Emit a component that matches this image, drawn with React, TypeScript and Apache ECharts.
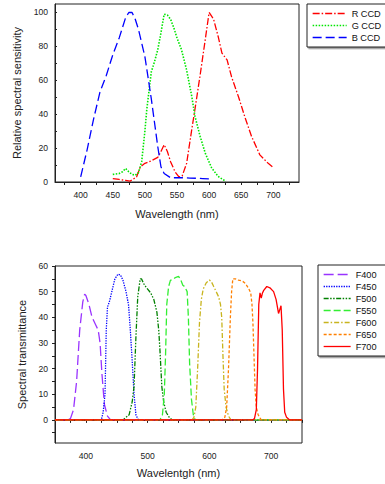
import React, { useEffect, useRef } from "react";
import * as echarts from "echarts";

// ---- Top chart: relative spectral sensitivity of the CCD channels ----
const rWl = [450, 460, 470, 477, 487, 493, 500, 510, 520, 525, 530, 535, 540, 547, 553, 558, 565, 573, 578, 586, 594, 600, 607, 614, 620, 628, 635, 646, 656, 666, 679, 692, 700];
const rVal = [2, 1.5, 1, 0.5, 3, 9, 11, 12.5, 14.5, 18, 22, 18, 12, 6, 3, 3.5, 11, 31, 43, 63, 84, 100, 96, 86, 76, 72, 62, 50, 38, 27, 16, 11, 8.6];

const gWl = [450, 460, 465, 470, 475, 480, 485, 490, 495, 500, 503, 510, 515, 520, 525, 530, 535, 540, 545, 550, 557, 565, 573, 578, 586, 594, 604, 614, 626];
const gVal = [4.5, 5, 6, 8, 6, 4.5, 4, 5.5, 12, 30, 43, 65, 71, 78, 88, 99, 98.5, 96, 91, 85, 78, 66, 50.5, 38.7, 27, 17, 8.3, 3.3, 0.4];

const bWl = [400, 410, 420, 430, 440, 450, 460, 470, 475, 480, 485, 490, 500, 510, 520, 525, 530, 540, 550, 560, 570, 580, 590, 600];
const bVal = [3, 19, 37, 53, 63, 75, 85, 97, 100, 100, 96, 90, 74, 49, 21, 9, 5, 2.5, 2.5, 2.5, 2.3, 2.2, 2, 1.8];

const topXTicks = [375, 400, 425, 450, 475, 500, 525, 550, 575, 600, 625, 650, 675, 700, 725];
const topXLabels = [400, 450, 500, 550, 600, 650, 700];
const topYTicks = [0, 10, 20, 30, 40, 50, 60, 70, 80, 90, 100];
const topYLabels = [0, 20, 40, 60, 80, 100];

// ---- Bottom chart: spectral transmittance of the filters ----
const f400Wl = [350, 370, 375, 380, 385, 390, 395, 398, 400, 405, 410, 415, 420, 423, 426, 430, 435, 440, 750];
const f400Val = [0, 0, 0.5, 4, 15, 35, 46, 49, 48.5, 45, 40, 37.5, 35, 30, 18, 6, 1.5, 0, 0];

const f450Wl = [350, 425, 428, 431, 433, 435, 438, 442, 447, 452, 456, 460, 465, 469, 472, 475, 478, 481, 485, 750];
const f450Val = [0, 0, 3, 10, 35, 44, 46, 50, 55, 56.8, 56.5, 54.5, 50, 45, 35, 23, 10, 2, 0, 0];

const f500Wl = [350, 460, 470, 475, 478, 481, 484, 488, 490, 495, 500, 505, 510, 515, 518, 520, 523, 526, 530, 535, 540, 750];
const f500Val = [0, 0, 2, 7, 13, 32, 48, 55, 55, 52.5, 51, 49.5, 47, 42, 35, 27, 13, 7, 3, 1, 0, 0];

const f550Wl = [350, 520, 524, 527, 529, 531, 534, 537, 540, 545, 550, 553, 557, 560, 564, 566, 568, 571, 574, 577, 750];
const f550Val = [0, 0, 2, 10, 25, 45, 52, 54.5, 54.5, 55.5, 56, 55, 52.5, 52, 50, 40, 22, 8, 2, 0, 0];

const f600Wl = [350, 572, 575, 578, 581, 584, 587, 590, 595, 600, 603, 607, 610, 615, 618, 620, 622, 624, 627, 631, 635, 750];
const f600Val = [0, 0, 1, 5, 20, 38, 47, 51, 53.5, 54.5, 54, 52, 50.5, 48, 45, 40, 25, 12, 5, 1.5, 0, 0];

const f650Wl = [350, 620, 625, 628, 631, 634, 636, 638, 642, 647, 653, 658, 663, 667, 669, 670.5, 672, 674, 676, 679, 684, 750];
const f650Val = [0, 0, 1, 5, 20, 40, 50, 55, 55, 54.5, 54.2, 53.3, 51.5, 49.5, 45, 38, 27, 12, 5, 2, 0, 0];

const f700Wl = [350, 670, 673, 676, 678, 680, 682, 684, 686, 688, 693, 698, 704, 708, 712, 714, 716, 718, 720, 722, 725, 730, 750];
const f700Val = [0, 0, 0.5, 4, 20, 45, 49.5, 47.5, 49.5, 50.5, 52, 51.5, 50, 47, 41.5, 43, 44.5, 35, 12, 3, 1, 0, 0];

const botXTicks = [350, 375, 400, 425, 450, 475, 500, 525, 550, 575, 600, 625, 650, 675, 700, 725, 750];
const botXLabels = [400, 500, 600, 700];
const botYTicks = [-5, 0, 5, 10, 15, 20, 25, 30, 35, 40, 45, 50, 55, 60];
const botYLabels = [0, 10, 20, 30, 40, 50, 60];

const FONT = "Liberation Sans, Arial, sans-serif";
const AXIS_COLOR = "#222";

function pairs(xs: number[], ys: number[]) {
  return xs.map((x, i) => [x, ys[i]]);
}

export default function App() {
  const ref = useRef<HTMLDivElement>(null);

  useEffect(() => {
    if (!ref.current) return;
    const chart = echarts.init(ref.current, undefined, { renderer: "svg" });

    const axisLineStyle = { lineStyle: { color: AXIS_COLOR, width: 1 } };
    const labelStyle = { fontFamily: FONT, fontSize: 8.6, color: "#222" };
    const nameStyle = { fontFamily: FONT, fontSize: 11, color: "#222" };

    const mkLine = (name: string, data: number[][], color: string, type: any, xi: number, width = 1.3) => ({
      type: "line",
      name,
      data,
      xAxisIndex: xi,
      yAxisIndex: xi,
      symbol: "none",
      showSymbol: false,
      smooth: false,
      lineStyle: { color, width, type },
      itemStyle: { color },
      z: 3,
    });

    const legendCommon = {
      orient: "vertical",
      backgroundColor: "#fff",
      borderColor: "#222",
      borderWidth: 1,
      shadowColor: "rgba(0,0,0,0.45)",
      shadowOffsetX: 1.5,
      shadowOffsetY: 1.5,
      shadowBlur: 0,
      itemHeight: 9,
      itemGap: 3,
      selectedMode: false,
      itemStyle: { opacity: 0, borderWidth: 0 },
      lineStyle: { width: 1.3 },
      textStyle: { fontFamily: FONT, fontSize: 9.2, color: "#111", padding: [0, 0, 0, 0] },
    };

    chart.setOption({
      animation: false,
      backgroundColor: "#fff",
      grid: [
        { left: 55, top: 4, width: 244, height: 178, show: true, borderColor: AXIS_COLOR, borderWidth: 1, backgroundColor: "transparent" },
        { left: 55, top: 266, width: 247, height: 177, show: true, borderColor: AXIS_COLOR, borderWidth: 1, backgroundColor: "transparent" },
      ],
      xAxis: [
        {
          type: "value", gridIndex: 0, min: 360, max: 740,
          name: "Wavelength (nm)", nameLocation: "middle", nameGap: 26, nameTextStyle: nameStyle,
          axisLine: axisLineStyle,
          axisTick: { show: true, inside: false, length: 3, customValues: topXTicks, lineStyle: { color: AXIS_COLOR } },
          axisLabel: { ...labelStyle, margin: 8, customValues: topXLabels },
          splitLine: { show: false },
        },
        {
          type: "value", gridIndex: 1, min: 350, max: 750,
          name: "Wavelentgh (nm)", nameLocation: "middle", nameGap: 24.5, nameTextStyle: nameStyle,
          axisLine: axisLineStyle,
          axisTick: { show: true, inside: false, length: 3, customValues: botXTicks, lineStyle: { color: AXIS_COLOR } },
          axisLabel: { ...labelStyle, margin: 8, customValues: botXLabels },
          splitLine: { show: false },
        },
      ],
      yAxis: [
        {
          type: "value", gridIndex: 0, min: 0, max: 105,
          name: "Relative spectral sensitivity", nameLocation: "middle", nameGap: 28, nameTextStyle: nameStyle,
          axisLine: axisLineStyle,
          axisTick: { show: true, inside: true, length: 2, customValues: topYTicks, lineStyle: { color: AXIS_COLOR } },
          axisLabel: { ...labelStyle, margin: 7, customValues: topYLabels },
          splitLine: { show: false },
        },
        {
          type: "value", gridIndex: 1, min: -9, max: 60,
          name: "Spectral transmittance", nameLocation: "middle", nameGap: 21, nameTextStyle: nameStyle,
          axisLine: axisLineStyle,
          axisTick: { show: true, inside: false, length: 3, customValues: botYTicks, lineStyle: { color: AXIS_COLOR } },
          axisLabel: { ...labelStyle, margin: 7, customValues: botYLabels },
          splitLine: { show: false },
        },
      ],
      legend: [
        {
          ...legendCommon,
          left: 307, top: 4,
          itemWidth: 34,
          padding: [5, 30, 5, 5],
          data: ["R CCD", "G CCD", "B CCD"],
        },
        {
          ...legendCommon,
          left: 318, top: 265,
          itemWidth: 27,
          padding: [5, 9, 5, 5],
          data: ["F400", "F450", "F500", "F550", "F600", "F650", "F700"],
        },
      ],
      series: [
        mkLine("R CCD", pairs(rWl, rVal), "#ff0000", [7, 2, 1.5, 2], 0),
        mkLine("G CCD", pairs(gWl, gVal), "#00e600", [1.5, 1.5], 0, 1.6),
        mkLine("B CCD", pairs(bWl, bVal), "#0000ff", [9, 4], 0),
        mkLine("F400", pairs(f400Wl, f400Val), "#9933ff", [10, 4], 1),
        mkLine("F450", pairs(f450Wl, f450Val), "#0000ff", [1.3, 1.2], 1),
        mkLine("F500", pairs(f500Wl, f500Val), "#008000", [5, 1.5, 1.5, 1.5, 1.5, 1.5], 1),
        mkLine("F550", pairs(f550Wl, f550Val), "#33ee33", [7, 3], 1),
        mkLine("F600", pairs(f600Wl, f600Val), "#c8b41e", [5, 2, 1.5, 2], 1),
        mkLine("F650", pairs(f650Wl, f650Val), "#ff8000", [3, 2], 1),
        mkLine("F700", pairs(f700Wl, f700Val), "#ff0000", "solid", 1),
      ],
    });

    return () => chart.dispose();
  }, []);

  return (
    <div
      ref={ref}
      style={{ position: "fixed", left: 0, top: 0, width: 385, height: 484, background: "#fff" }}
    />
  );
}
